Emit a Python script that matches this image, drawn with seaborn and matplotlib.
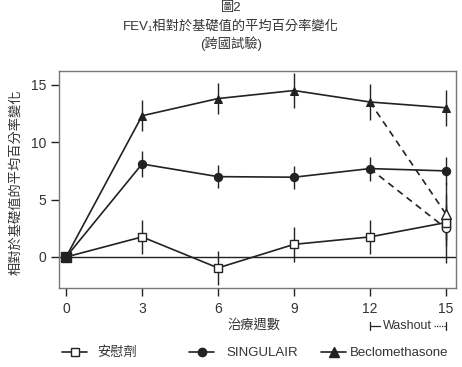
import matplotlib
matplotlib.use("Agg")
import matplotlib.pyplot as plt
import matplotlib.transforms as mtransforms
from matplotlib.lines import Line2D
import numpy as np
import pandas as pd
import seaborn as sns

# Mean percent change from baseline in FEV1 (multinational study)
weeks = [0, 3, 6, 9, 12, 15]
placebo = [0.0, 1.75, -0.95, 1.1, 1.75, 3.0]
placebo_err = [0.0, 1.45, 1.45, 1.5, 1.45, 1.5]
singulair = [0.0, 8.1, 7.0, 6.95, 7.7, 7.5]
singulair_err = [0.0, 1.1, 1.0, 1.0, 1.05, 1.2]
beclo = [0.0, 12.3, 13.8, 14.5, 13.5, 13.0]
beclo_err = [0.0, 1.35, 1.35, 1.5, 1.6, 1.55]

# Washout period (week 12 -> week 15 after stopping treatment)
washout_weeks = [12, 15]
singulair_washout = [7.7, 2.5]
singulair_washout_err = 3.0
beclo_washout = [13.5, 3.75]
beclo_washout_err = 2.8

series_names = ["安慰劑", "SINGULAIR", "Beclomethasone"]
title_lines = ["圖2", "FEV₁相對於基礎值的平均百分率變化", "(跨國試驗)"]
x_label = "治療週數"
y_label = "相對於基礎值的平均百分率變化"
y_ticks = [0, 5, 10, 15]

sns.set_theme(style="white")
FAMILY = ["Liberation Sans", "Noto Sans CJK TC", "DejaVu Sans"]
plt.rcParams["font.family"] = FAMILY

INK = "#222222"
FRAME = "#777777"
TEXT = "#333333"
FS = 9.5

df = pd.DataFrame({
    "week": weeks * 3,
    "value": placebo + singulair + beclo,
    "group": [series_names[0]] * 6 + [series_names[1]] * 6 + [series_names[2]] * 6,
})

fig = plt.figure(figsize=(4.62, 3.67), dpi=100)
ax = fig.add_axes([59 / 462, 1 - 288 / 367, (456 - 59) / 462, (288 - 71) / 367])

ax.axhline(0, color=INK, lw=1.0, zorder=1)

# error bars
for vals, errs in [(placebo, placebo_err), (singulair, singulair_err), (beclo, beclo_err)]:
    v = np.array(vals)
    e = np.array(errs)
    ax.vlines(weeks, v - e, v + e, color=INK, lw=1.0, zorder=2)
ax.vlines(15, singulair_washout[1] - singulair_washout_err,
          singulair_washout[1] + singulair_washout_err, color=INK, lw=1.0, zorder=2)
ax.vlines(15, beclo_washout[1] - beclo_washout_err,
          beclo_washout[1] + beclo_washout_err, color=INK, lw=1.0, zorder=2)

# washout dashed lines
ax.plot(washout_weeks, singulair_washout, ls=(0, (4, 3)), color=INK, lw=1.2, zorder=3)
ax.plot(washout_weeks, beclo_washout, ls=(0, (4, 3)), color=INK, lw=1.2, zorder=3)
ax.plot([15], [singulair_washout[1]], marker="o", ms=6, mfc="white", mec=INK, mew=1.0, zorder=5)
ax.plot([15], [beclo_washout[1]], marker="^", ms=7, mfc="white", mec=INK, mew=1.0, zorder=5)

palette = {n: INK for n in series_names}
markers = {series_names[0]: "s", series_names[1]: "o", series_names[2]: "^"}
sns.lineplot(data=df, x="week", y="value", hue="group", style="group",
             palette=palette, markers=markers, dashes=False, lw=1.2,
             ax=ax, legend=False, zorder=4, markersize=6)
# placebo squares are open
for line in ax.lines:
    if line.get_marker() == "s":
        line.set_markerfacecolor("white")
        line.set_markeredgecolor(INK)
        line.set_markeredgewidth(1.0)
    elif line.get_marker() in ("o", "^") and line.get_markerfacecolor() != "white":
        line.set_markeredgecolor(INK)
ax.plot([15], [placebo[-1]], marker="s", ms=6, mfc="white", mec=INK, mew=1.0, zorder=6)
# overlapping markers at baseline
ax.plot([0], [0], marker="s", ms=7, color=INK, zorder=7)

ax.set_xlim(-0.28, 15.4)
ax.set_ylim(-2.7, 16.2)
ax.set_xticks(weeks)
ax.set_yticks(y_ticks)
ax.set_xticklabels([str(w) for w in weeks])
ax.set_yticklabels([str(t) for t in y_ticks])
ax.tick_params(axis="both", which="major", direction="out", length=6, width=1.0,
               color=INK, labelsize=FS + 0.5, labelcolor=TEXT, bottom=True, left=True)
ax.tick_params(axis="x", pad=4)
ax.tick_params(axis="y", pad=3)
for s in ax.spines.values():
    s.set_color(FRAME)
    s.set_linewidth(1.0)
ax.set_xlabel("")
ax.set_ylabel("")

fig.text(254 / 462, 1 - 325 / 367, x_label, ha="center", va="center", fontsize=FS, color=TEXT)
fig.text(16 / 462, 1 - 182 / 367, y_label, ha="center", va="center", rotation=90,
         fontsize=FS, color=TEXT)

# title lines
fig.text(231 / 462, 1 - 8 / 367, title_lines[0], ha="center", va="center", fontsize=FS, color=TEXT)
fig.text(231 / 462, 1 - 26 / 367, title_lines[1], ha="center", va="center", fontsize=FS, color=TEXT)
fig.text(231 / 462, 1 - 44 / 367, title_lines[2], ha="center", va="center", fontsize=FS, color=TEXT)

# Washout bracket below weeks 12-15
trans = mtransforms.blended_transform_factory(ax.transData, fig.transFigure)
yb = 1 - 326 / 367
tick_h = 4 / 367
fig.add_artist(Line2D([12, 12], [yb - tick_h, yb + tick_h], transform=trans, color=INK, lw=0.9))
fig.add_artist(Line2D([12, 12.4], [yb, yb], transform=trans, color=INK, lw=0.9))
fig.add_artist(Line2D([15, 15], [yb - tick_h, yb + tick_h], transform=trans, color=INK, lw=0.9))
fig.add_artist(Line2D([14.55, 15], [yb, yb], transform=trans, color=INK, lw=0.9, ls=(0, (1, 1))))
fig.text(13.48, yb, "Washout", transform=trans, ha="center", va="center", fontsize=FS - 0.5, color=TEXT)

# legend entries
handles = [
    Line2D([], [], color=INK, lw=1.2, marker="s", ms=6, mfc="white", mec=INK),
    Line2D([], [], color=INK, lw=1.2, marker="o", ms=6),
    Line2D([], [], color=INK, lw=1.2, marker="^", ms=7),
]
lx = [62, 189, 321]
pads = [0.75, 0.9, 0.3]
for h, name, x0, pad in zip(handles, series_names, lx, pads):
    fig.legend([h], [name], loc="center left", bbox_to_anchor=(x0 / 462, 1 - 353 / 367),
               frameon=False, fontsize=FS, handlelength=1.9, handletextpad=pad,
               borderpad=0, borderaxespad=0, labelcolor=TEXT)

fig.savefig("out.png", dpi=100)
